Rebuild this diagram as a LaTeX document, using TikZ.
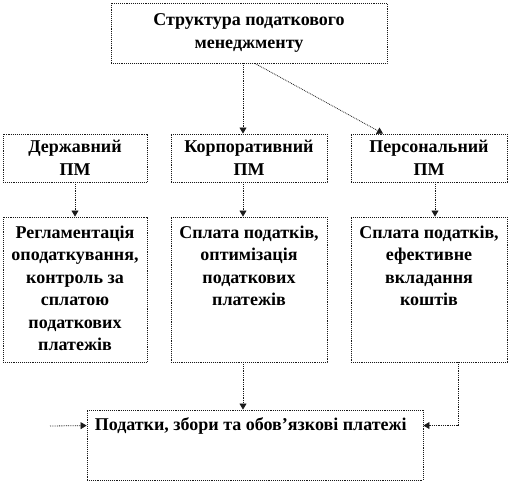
\documentclass[tikz,border=0pt]{standalone}
\usepackage{fontspec}
\setmainfont{Liberation Serif}
\usetikzlibrary{arrows.meta}
\definecolor{liniya}{HTML}{1A1A1A}
\newcommand{\shryft}{\fontsize{18}{22.5}\selectfont\bfseries}
\tikzset{
  blok/.style={draw=liniya, densely dotted, line width=0.9pt, inner sep=0pt,
    font=\shryft, align=center},
  napys/.style={font=\shryft, align=center, anchor=north, inner sep=0pt},
  strilka/.style={draw=liniya, densely dotted, line width=0.8pt,
    -{Triangle[width=7pt,length=6pt]}}
}

\begin{document}
\begin{tikzpicture}[x=1pt, y=-1pt]
  \useasboundingbox (0,0) rectangle (510,485);
  \node[blok, minimum width=276, minimum height=60] (struktura) at (249,33)
    {Структура податкового\\менеджменту};
  % Рівні ПМ
  \node[blok, minimum width=144, minimum height=48] (derzh) at (75,158) {Державний\\ПМ};
  \node[blok, minimum width=156, minimum height=48] (korp) at (249,158) {Корпоративний\\ПМ};
  \node[blok, minimum width=156, minimum height=48] (pers) at (429,158) {Персональний\\ПМ};
  \node[blok, minimum width=144, minimum height=145] (derzhzm) at (75,289.5) {};
  \node[blok, minimum width=156, minimum height=145] (korpzm) at (249,289.5) {};
  \node[blok, minimum width=156, minimum height=145] (perszm) at (429,289.5) {};
  \node[napys] (derzhtxt) at ([yshift=-9pt]derzhzm.north)
    {Регламентація\\оподаткування,\\контроль за\\сплатою\\податкових\\платежів};
  \node[napys] (korptxt) at ([yshift=-9pt]korpzm.north)
    {Сплата податків,\\оптимізація\\податкових\\платежів};
  \node[napys] (perstxt) at ([yshift=-9pt]perszm.north)
    {Сплата податків,\\ефективне\\вкладання\\коштів};
  \node[blok, minimum width=336, minimum height=70] (podatky) at (255,445) {};
  \node[napys, anchor=north west] (podatkytxt) at ([xshift=8pt,yshift=-8pt]podatky.north west)
    {Податки, збори та обов’язкові платежі};
  \coordinate (vkhid) at (50,426);
  \draw[strilka] ([xshift=-6pt]struktura.south) -- ([xshift=-6pt]korp.north);
  \draw[strilka] ([xshift=6pt]struktura.south) -- ([xshift=-46pt]pers.north);
  \draw[strilka] (derzh) -- (derzhzm);
  \draw[strilka] ([xshift=-6pt]korp.south) -- ([xshift=-6pt]korpzm.north);
  \draw[strilka] ([xshift=6pt]pers.south) -- ([xshift=6pt]perszm.north);
  \draw[strilka] ([xshift=-6pt]korpzm.south) -- ([xshift=-12pt]podatky.north);
  \draw[strilka] ([xshift=29pt]perszm.south) |- ([yshift=-16pt]podatky.north east);
  \draw[strilka] (vkhid) -- ([yshift=-16pt]podatky.north west);
\end{tikzpicture}
\end{document}
